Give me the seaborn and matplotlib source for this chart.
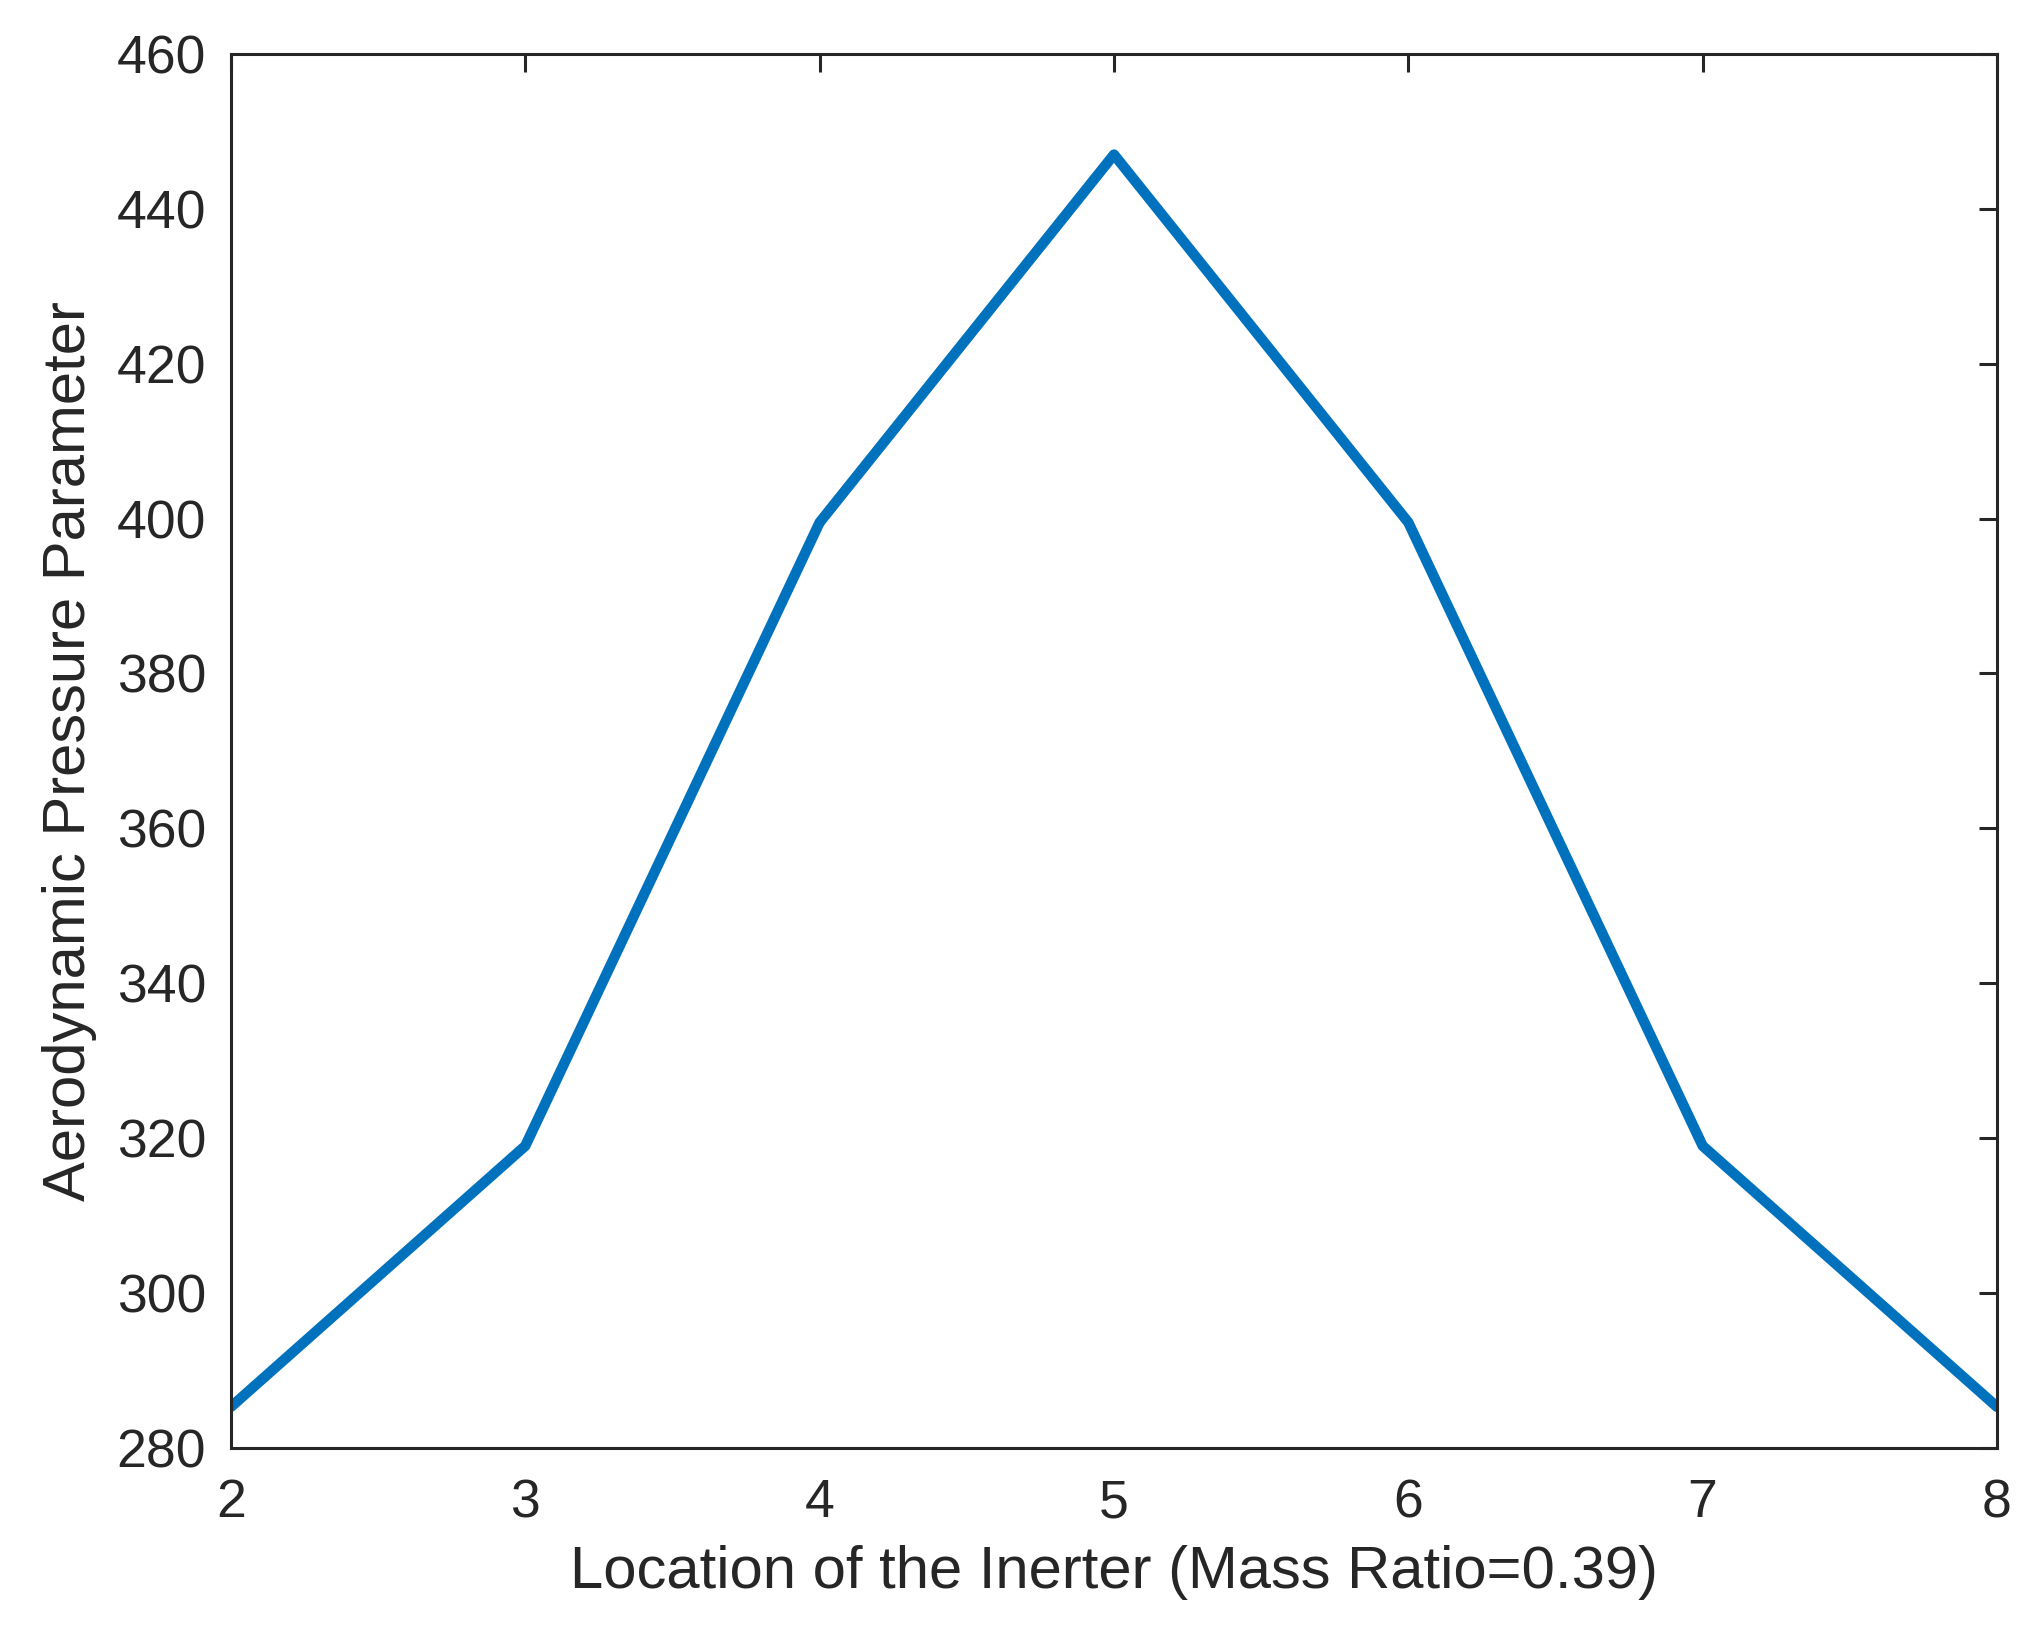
import matplotlib
matplotlib.use('Agg')
import matplotlib.pyplot as plt
import seaborn as sns
import pandas as pd

# values
location = [2, 3, 4, 5, 6, 7, 8]
pressure = [285.3, 319.0, 399.5, 447.0, 399.5, 319.0, 285.3]
y_ticks = [280, 300, 320, 340, 360, 380, 400, 420, 440, 460]

df = pd.DataFrame({'location': location, 'pressure': pressure})

sns.set_style('white')
plt.rcParams['font.family'] = ['Liberation Sans', 'DejaVu Sans']

fig = plt.figure(figsize=(20.33, 16.48), dpi=100)
ax = fig.add_axes([0.1136, 0.1214, 0.8687, 0.8459])

sns.lineplot(data=df, x='location', y='pressure', ax=ax,
             color='#0072BD', linewidth=7.5)

ax.set_xlim(2, 8)
ax.set_ylim(280, 460)
ax.set_xticks(location)
ax.set_yticks(y_ticks)

for s in ax.spines.values():
    s.set_visible(True)
    s.set_color('#262626')
    s.set_linewidth(2.2)

ax.tick_params(direction='in', length=13, width=2.2, color='#262626',
               top=True, right=True, labelsize=38.5, labelcolor='#262626')
ax.tick_params(axis='x', pad=22)
ax.tick_params(axis='y', pad=18)

ax.set_xlabel('Location of the Inerter (Mass Ratio=0.39)', fontsize=43,
              color='#262626', labelpad=12)
ax.set_ylabel('Aerodynamic Pressure Parameter', fontsize=43,
              color='#262626', labelpad=14)

plt.savefig('out.png', dpi=100)
